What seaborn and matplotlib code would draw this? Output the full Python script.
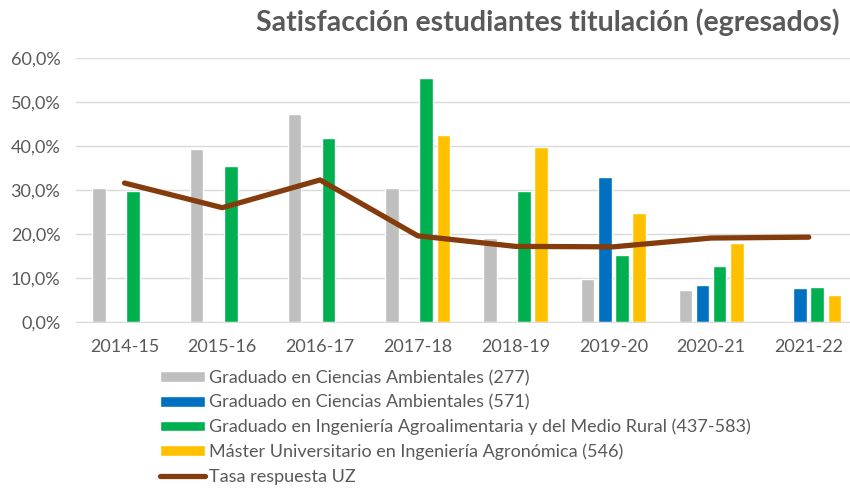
import numpy as np
import pandas as pd
import seaborn as sns
import matplotlib.pyplot as plt
from matplotlib.patches import Patch
from matplotlib.lines import Line2D
from matplotlib.ticker import FuncFormatter

# data (fractions)
years = ['2014-15', '2015-16', '2016-17', '2017-18', '2018-19', '2019-20', '2020-21', '2021-22']
amb_277 = [0.305, 0.393, 0.473, 0.305, 0.191, 0.098, 0.073, np.nan]
amb_571 = [np.nan, np.nan, np.nan, np.nan, np.nan, 0.330, 0.084, 0.078]
agro = [0.298, 0.355, 0.418, 0.555, 0.298, 0.152, 0.127, 0.080]
master = [np.nan, np.nan, np.nan, 0.425, 0.398, 0.248, 0.180, 0.062]
tasa_uz = [0.316, 0.260, 0.323, 0.196, 0.172, 0.171, 0.191, 0.193]

series = ['Graduado en Ciencias Ambientales (277)',
          'Graduado en Ciencias Ambientales (571)',
          'Graduado en Ingeniería Agroalimentaria y del Medio Rural (437-583)',
          'Máster Universitario en Ingeniería Agronómica (546)']
colors = ['#BFBFBF', '#0070C0', '#00B050', '#FFC000']
line_label = 'Tasa respuesta UZ'
line_color = '#843C0C'

df = pd.DataFrame({'curso': years * 4,
                   'serie': np.repeat(series, len(years)),
                   'valor': amb_277 + amb_571 + agro + master})

sns.set_style('white')
plt.rcParams['font.family'] = ['Lato', 'DejaVu Sans']
txt = '#595959'

fig = plt.figure(figsize=(8.5, 4.88), dpi=100)
ax = fig.add_axes([0.089, 0.340, 0.920, 0.541])

sns.barplot(data=df, x='curso', y='valor', hue='serie', order=years,
            hue_order=series, palette=colors, width=0.7, gap=0.2,
            legend=False, ax=ax, saturation=1)
sns.lineplot(x=np.arange(len(years)), y=tasa_uz, color=line_color,
             linewidth=3.8, ax=ax, solid_capstyle='round')

ax.set_xlim(-0.5, 7.5)
ax.set_ylim(0, 0.6)
ax.set_yticks(np.arange(0, 0.61, 0.1))
ax.yaxis.set_major_formatter(FuncFormatter(lambda v, p: f'{v*100:.1f}%'.replace('.', ',')))
ax.grid(axis='y', color='#D9D9D9', linewidth=1)
ax.set_axisbelow(True)
for s in ['left', 'right', 'top']:
    ax.spines[s].set_visible(False)
ax.spines['bottom'].set_color('#D9D9D9')
ax.tick_params(axis='both', length=0, labelsize=13, colors=txt)
ax.tick_params(axis='y', pad=11)
ax.tick_params(axis='x', pad=12)
ax.set_xlabel('')
ax.set_ylabel('')

fig.text(0.988, 0.955, 'Satisfacción estudiantes titulación (egresados)',
         ha='right', va='center', fontsize=20.5, fontweight='bold', color=txt)

handles = [Patch(facecolor=c, label=l) for c, l in zip(colors, series)]
handles.append(Line2D([0], [0], color=line_color, linewidth=3.8, label=line_label))
fig.legend(handles=handles, loc='upper left', bbox_to_anchor=(0.188, 0.242),
           frameon=False, fontsize=13, labelcolor=txt, handlelength=2.5,
           handleheight=0.55, handletextpad=0.2, labelspacing=0.46,
           borderaxespad=0, borderpad=0)

fig.savefig('out.png', dpi=100)
